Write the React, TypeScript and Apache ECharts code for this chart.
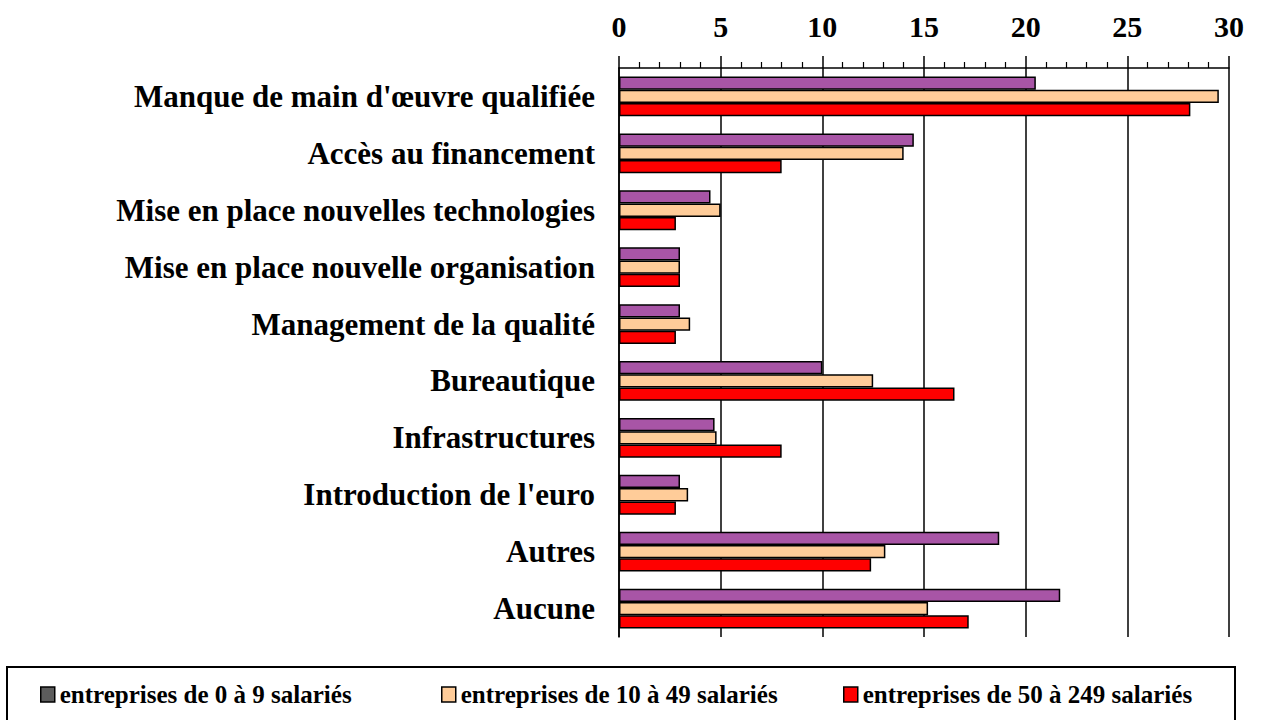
import React, { useEffect, useRef } from "react";
import * as echarts from "echarts";

const categories = [
  "Manque de main d'œuvre qualifiée",
  "Accès au financement",
  "Mise en place nouvelles technologies",
  "Mise en place nouvelle organisation",
  "Management de la qualité",
  "Bureautique",
  "Infrastructures",
  "Introduction de l'euro",
  "Autres",
  "Aucune",
];
const seriesNames = [
  "entreprises de 0 à 9 salariés",
  "entreprises de 10 à 49 salariés",
  "entreprises de 50 à 249 salariés",
];
const small = [20.5, 14.5, 4.5, 3.0, 3.0, 10.0, 4.7, 3.0, 18.7, 21.7];
const medium = [29.5, 14.0, 5.0, 3.0, 3.5, 12.5, 4.8, 3.4, 13.1, 15.2];
const large = [28.1, 8.0, 2.8, 3.0, 2.8, 16.5, 8.0, 2.8, 12.4, 17.2];
const colors = ["#A855A6", "#FFCC99", "#FF0000"];
const legendSwatch = ["#5C5C5C", "#FFCC99", "#FF0000"];

const FONT = "'Liberation Serif', 'Times New Roman', serif";

export default function App() {
  const ref = useRef<HTMLDivElement>(null);
  useEffect(() => {
    document.body.style.margin = "0";
    const chart = echarts.init(ref.current!, undefined, { renderer: "svg" });
    const values = [small, medium, large];
    const legendLefts = [40, 441, 843];
    chart.setOption({
      animation: false,
      backgroundColor: "#ffffff",
      textStyle: { fontFamily: FONT },
      grid: { left: 619, right: 32, top: 68, bottom: 83, containLabel: false },
      xAxis: {
        type: "value",
        position: "top",
        min: 0,
        max: 30,
        interval: 5,
        axisLine: { show: true, lineStyle: { color: "#000", width: 1.5 } },
        axisTick: { show: true, length: 12, lineStyle: { color: "#000", width: 1.5 } },
        minorTick: { show: true, splitNumber: 5, length: 6, lineStyle: { color: "#000", width: 1.2 } },
        splitLine: { show: true, lineStyle: { color: "#000", width: 1.5 } },
        axisLabel: {
          color: "#000",
          fontFamily: FONT,
          fontWeight: "bold",
          fontSize: 30,
          margin: 27,
        },
      },
      yAxis: {
        type: "category",
        inverse: true,
        data: categories,
        axisLine: { show: true, lineStyle: { color: "#000", width: 1.5 } },
        axisTick: { show: false },
        splitLine: { show: false },
        axisLabel: {
          color: "#000",
          fontFamily: FONT,
          fontWeight: "bold",
          fontSize: 31,
          margin: 24,
        },
      },
      legend: seriesNames.map((n, i) => ({
        left: legendLefts[i],
        top: 682,
        padding: 0,
        orient: "horizontal",
        icon: "rect",
        itemWidth: 14,
        itemHeight: 15,
        selectedMode: false,
        data: [
          {
            name: n,
            itemStyle: { color: legendSwatch[i], borderColor: "#000", borderWidth: 1.5 },
          },
        ],
        textStyle: {
          color: "#000",
          fontFamily: FONT,
          fontWeight: "bold",
          fontSize: 25,
          padding: [0, 0, 0, 0],
        },
      })),
      graphic: [
        {
          type: "rect",
          shape: { x: 7, y: 667, width: 1228, height: 80 },
          style: { fill: "none", stroke: "#000", lineWidth: 2 },
          silent: true,
        },
      ],
      series: seriesNames.map((n, i) => ({
        name: n,
        type: "bar",
        data: values[i],
        barGap: "0%",
        barCategoryGap: "30%",
        itemStyle: { color: colors[i], borderColor: "#000", borderWidth: 1.5 },
      })),
    });
    return () => chart.dispose();
  }, []);
  return <div ref={ref} style={{ width: 1261, height: 720 }} />;
}
